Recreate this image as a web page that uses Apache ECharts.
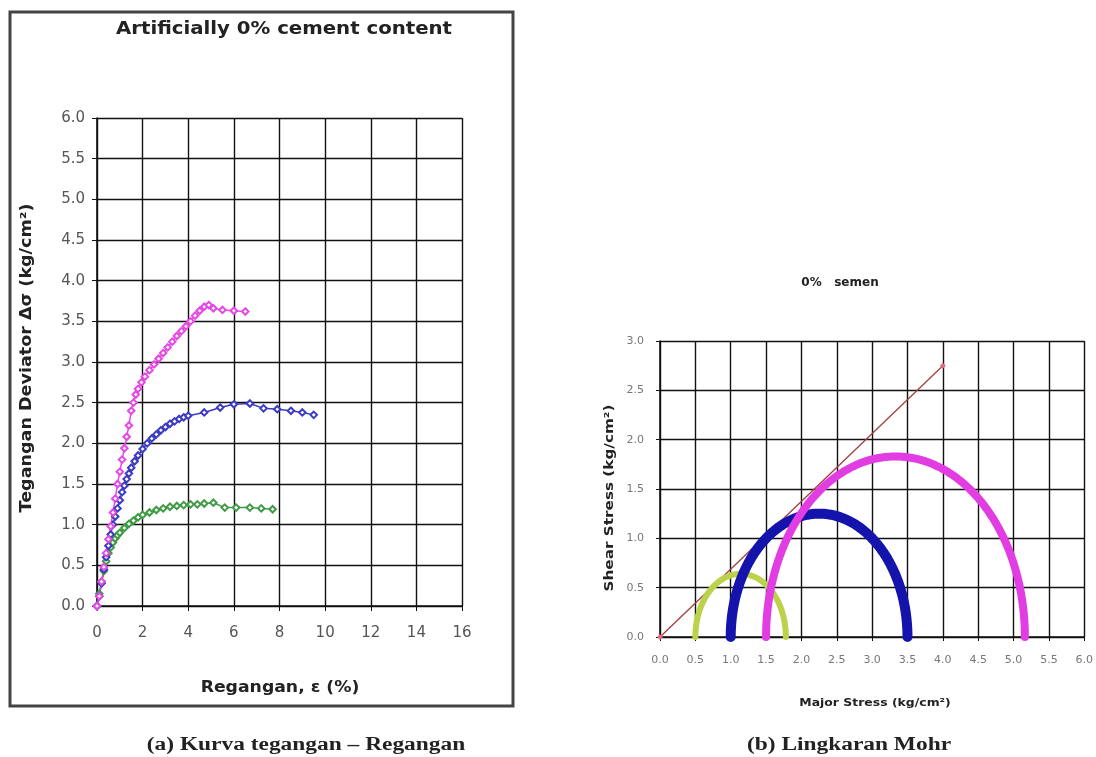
<!DOCTYPE html>
<html>
<head>
<meta charset="utf-8">
<script src="https://cdn.jsdelivr.net/npm/echarts@6/dist/echarts.min.js"></script>
<style>
  html, body { margin: 0; padding: 0; background: #fff; }
  #chart { width: 1096px; height: 757px; }
</style>
</head>
<body>
<div id="chart"></div>
<script>
// Stress–strain curves: [strain %, deviator stress kg/cm²]
const curveMagenta = [
  [0,0],[0.1,0.12],[0.2,0.3],[0.3,0.48],[0.4,0.65],[0.5,0.82],[0.6,0.98],[0.7,1.15],
  [0.8,1.32],[0.9,1.5],[1.0,1.65],[1.1,1.8],[1.2,1.94],[1.3,2.08],[1.4,2.22],[1.5,2.4],
  [1.6,2.5],[1.7,2.6],[1.8,2.67],[1.95,2.75],[2.1,2.82],[2.3,2.9],[2.5,2.97],[2.7,3.04],
  [2.9,3.11],[3.1,3.18],[3.3,3.25],[3.5,3.32],[3.7,3.38],[3.9,3.44],[4.1,3.5],[4.3,3.57],
  [4.5,3.63],[4.7,3.68],[4.9,3.7],[5.1,3.66],[5.5,3.64],[6.0,3.63],[6.5,3.62]
];
const curveBlue = [
  [0,0],[0.1,0.12],[0.2,0.28],[0.3,0.45],[0.4,0.6],[0.5,0.74],[0.6,0.88],[0.7,1.0],
  [0.8,1.1],[0.9,1.2],[1.0,1.3],[1.1,1.4],[1.2,1.48],[1.3,1.56],[1.4,1.63],[1.5,1.7],
  [1.65,1.78],[1.8,1.85],[2.0,1.93],[2.2,2.0],[2.4,2.06],[2.6,2.11],[2.8,2.16],[3.0,2.2],
  [3.2,2.24],[3.4,2.27],[3.6,2.3],[3.8,2.32],[4.0,2.34],[4.7,2.38],[5.4,2.44],[6.0,2.48],
  [6.7,2.49],[7.3,2.43],[7.9,2.42],[8.5,2.4],[9.0,2.38],[9.5,2.35]
];
const curveGreen = [
  [0,0],[0.1,0.15],[0.2,0.3],[0.3,0.43],[0.4,0.55],[0.5,0.65],[0.6,0.72],[0.7,0.78],
  [0.8,0.83],[0.9,0.87],[1.0,0.9],[1.2,0.96],[1.4,1.01],[1.6,1.05],[1.8,1.09],[2.0,1.12],
  [2.3,1.15],[2.6,1.18],[2.9,1.2],[3.2,1.22],[3.5,1.23],[3.8,1.24],[4.1,1.25],[4.4,1.25],
  [4.7,1.26],[5.1,1.27],[5.6,1.21],[6.1,1.21],[6.7,1.21],[7.2,1.2],[7.7,1.19]
];

// Mohr circles: confining (minor) and major principal stresses, kg/cm²
const sigma3 = [0.5, 1.0, 1.5];
const sigma1 = [1.78, 3.5, 5.16];
// Failure envelope end points
const envelope = [[0, 0], [4.0, 2.75]];

// Upper half of a Mohr circle between sigma3 and sigma1
function mohrArc(s3, s1) {
  const c = (s3 + s1) / 2, r = (s1 - s3) / 2, pts = [];
  for (let i = 0; i <= 120; i++) {
    const a = Math.PI - (Math.PI * i) / 120;
    pts.push([c + r * Math.cos(a), r * Math.sin(a)]);
  }
  return pts;
}

const chart = echarts.init(document.getElementById('chart'));
const sans = '"DejaVu Sans", Verdana, sans-serif';
const serif = '"Liberation Serif", "Times New Roman", serif';

const leftLabel = { color: '#555', fontSize: 15, fontFamily: sans };
const rightLabel = { color: '#777', fontSize: 11, fontFamily: sans };
const blackLine = { lineStyle: { color: '#111', width: 1.4 } };

function curveSeries(data, color) {
  return {
    type: 'line', xAxisIndex: 0, yAxisIndex: 0, data: data,
    symbol: 'emptyDiamond', symbolSize: 6.5,
    lineStyle: { color: color, width: 1.5 },
    itemStyle: { color: color, borderColor: color, borderWidth: 1.3 },
    animation: false
  };
}
function arcSeries(i, color, width, z) {
  return {
    type: 'line', xAxisIndex: 1, yAxisIndex: 1, data: mohrArc(sigma3[i], sigma1[i]),
    showSymbol: false, z: z,
    lineStyle: { color: color, width: width, cap: 'round' },
    animation: false
  };
}
function label(text, x, y, font, opts) {
  return Object.assign({ type: 'text', x: x, y: y, style: {
    text: text, font: font, fill: '#222', textAlign: 'center', textVerticalAlign: 'middle' } }, opts || {});
}

chart.setOption({
  animation: false,
  grid: [
    { left: 97, top: 118, width: 365, height: 488 },
    { left: 660, top: 341, width: 425, height: 296 }
  ],
  xAxis: [
    { gridIndex: 0, type: 'value', min: 0, max: 16, interval: 2,
      axisLine: { show: true, onZero: false, lineStyle: { color: '#111', width: 1.6 } },
      axisTick: { show: true, length: 5, lineStyle: { color: '#111' } },
      axisLabel: Object.assign({ margin: 20 }, leftLabel),
      splitLine: Object.assign({ show: true }, blackLine) },
    { gridIndex: 1, type: 'value', min: 0, max: 6, interval: 0.5,
      axisLine: { show: true, onZero: false, lineStyle: { color: '#111', width: 1.6 } },
      axisTick: { show: true, length: 4, lineStyle: { color: '#111' } },
      axisLabel: Object.assign({ margin: 18, formatter: v => v.toFixed(1) }, rightLabel),
      splitLine: Object.assign({ show: true }, blackLine) }
  ],
  yAxis: [
    { gridIndex: 0, type: 'value', min: 0, max: 6, interval: 0.5,
      axisLine: { show: true, onZero: false, lineStyle: { color: '#111', width: 1.6 } },
      axisTick: { show: true, length: 5, lineStyle: { color: '#111' } },
      axisLabel: Object.assign({ margin: 12, formatter: v => v.toFixed(1) }, leftLabel),
      splitLine: Object.assign({ show: true }, blackLine) },
    { gridIndex: 1, type: 'value', min: 0, max: 3, interval: 0.5,
      axisLine: { show: true, onZero: false, lineStyle: { color: '#111', width: 1.6 } },
      axisTick: { show: true, length: 4, lineStyle: { color: '#111' } },
      axisLabel: Object.assign({ margin: 16, formatter: v => v.toFixed(1) }, rightLabel),
      splitLine: Object.assign({ show: true }, blackLine) }
  ],
  series: [
    curveSeries(curveGreen, '#3f9a45'),
    curveSeries(curveBlue, '#3b3bc4'),
    curveSeries(curveMagenta, '#e548e5'),
    { type: 'line', xAxisIndex: 1, yAxisIndex: 1, data: envelope, z: 1,
      symbol: 'diamond', symbolSize: 6,
      lineStyle: { color: '#a0403f', width: 1.3 },
      itemStyle: { color: '#e06a80' }, animation: false },
    arcSeries(0, '#bcd24a', 6, 2),
    arcSeries(1, '#1414ac', 10, 3),
    arcSeries(2, '#e23de2', 8, 4)
  ],
  graphic: [
    { type: 'rect', shape: { x: 10, y: 12, width: 503, height: 694 },
      style: { fill: 'none', stroke: '#444', lineWidth: 3 }, z: 0 },
    // chart titles
    label('Artificially 0% cement content', 284, 30, 'bold 17px ' + sans, { scaleX: 1.16 }),
    label('0%   semen', 840, 283, 'bold 12px ' + sans),
    // axis titles
    label('Tegangan Deviator Δσ (kg/cm²)', 27, 358, 'bold 15px ' + sans, { rotation: Math.PI / 2, scaleX: 1.17 }),
    label('Regangan, ε (%)', 280, 688, 'bold 15px ' + sans, { scaleX: 1.15 }),
    label('Shear Stress (kg/cm²)', 610, 498, 'bold 12px ' + sans, { rotation: Math.PI / 2, scaleX: 1.27 }),
    label('Major Stress (kg/cm²)', 875, 703, 'bold 11px ' + sans, { scaleX: 1.13 }),
    // figure captions
    label('(a) Kurva tegangan – Regangan', 306, 745, 'bold 18px ' + serif, { scaleX: 1.3 }),
    label('(b) Lingkaran Mohr', 849, 745, 'bold 18px ' + serif, { scaleX: 1.3 })
  ]
});
</script>
</body>
</html>
